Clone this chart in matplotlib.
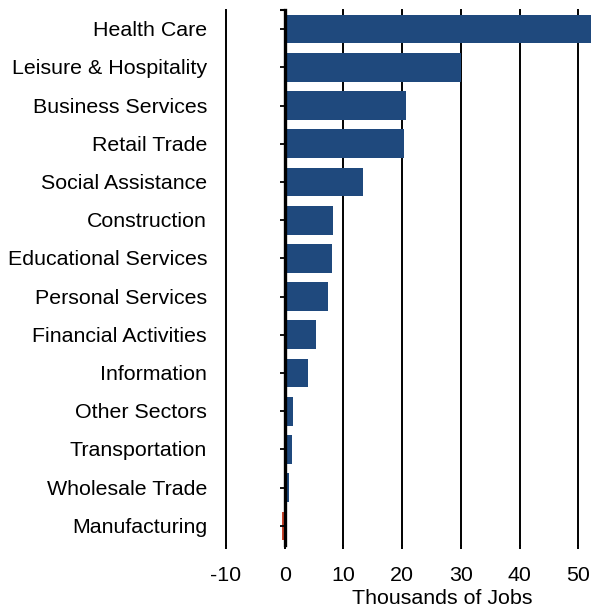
import matplotlib.pyplot as plt
import matplotlib.transforms as mtransforms

plt.rcParams['font.family'] = ['Liberation Sans', 'DejaVu Sans']

sectors = ['Health Care', 'Leisure & Hospitality', 'Business Services', 'Retail Trade',
           'Social Assistance', 'Construction', 'Educational Services', 'Personal Services',
           'Financial Activities', 'Information', 'Other Sectors', 'Transportation',
           'Wholesale Trade', 'Manufacturing']
jobs = [52.2, 30.0, 20.6, 20.3, 13.3, 8.2, 8.0, 7.3, 5.3, 3.9, 1.4, 1.2, 0.7, -0.5]
xticks = [-10, 0, 10, 20, 30, 40, 50]

blue = '#1F497D'
red = '#C8442A'
fs = 15.4

fig = plt.figure(figsize=(5.92, 6.10), dpi=100)
ax = fig.add_axes([226/592, 1 - 545/610, 366/592, 535/610])

pos = list(range(len(sectors)))
colors = [red if v < 0 else blue for v in jobs]
ax.barh(pos, jobs, height=0.75, color=colors, zorder=2)

ax.set_xlim(-10, 52.3)
ax.set_ylim(len(sectors) - 0.5, -0.5)

# vertical lines at each tick, zero line drawn thicker
for t in xticks:
    if t == 0:
        ax.axvline(0, color='black', lw=2.4, zorder=3, clip_on=False)
    else:
        ax.axvline(t, color='black', lw=1.4, zorder=1, clip_on=False)

for s in ax.spines.values():
    s.set_visible(False)

ax.set_xticks(xticks)
ax.set_xticklabels([str(t) for t in xticks], fontsize=fs)
ax.tick_params(axis='x', length=3, width=1.4, pad=12)

# y ticks sit on the zero line
ax.set_yticks([])
for p in pos:
    ax.plot([-0.85, 0], [p, p], color='black', lw=1.3, zorder=3, solid_capstyle='butt')
ax.plot([-0.85, 0], [-0.5, -0.5], color='black', lw=1.5, zorder=3, clip_on=False,
        solid_capstyle='butt')

trans = mtransforms.blended_transform_factory(ax.transAxes, ax.transData)
for p, name in zip(pos, sectors):
    ax.text(-19/366, p + 0.04, name, transform=trans, ha='right', va='center', fontsize=fs,
            color='black')

fig.text(442/592, 1 - 598/610, 'Thousands of Jobs', ha='center', va='center', fontsize=fs,
         color='black')

fig.savefig('out.png', dpi=100)
